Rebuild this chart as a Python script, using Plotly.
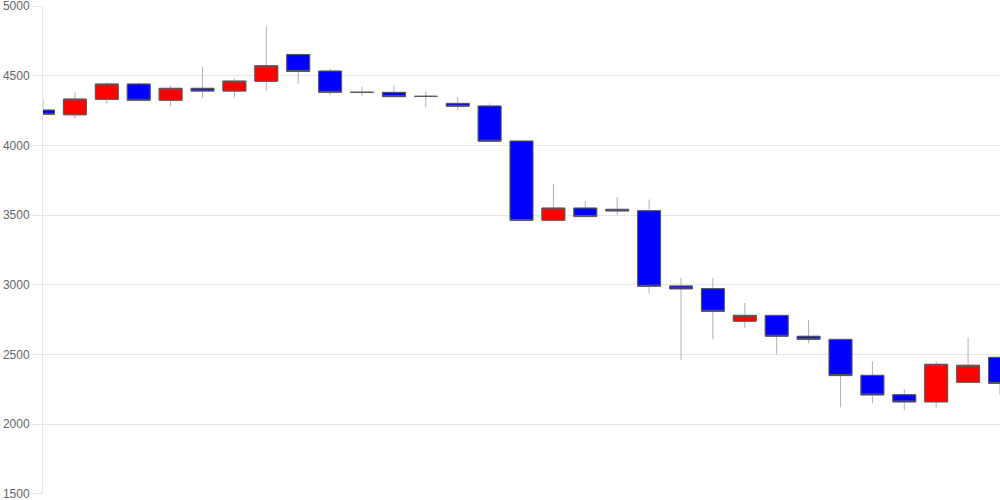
import plotly.graph_objects as go

idx = list(range(31))
opens  = [4254, 4220, 4331, 4441, 4324, 4410, 4390, 4460, 4653, 4534, 4381, 4381, 4352, 4302, 4283,
          4032, 3463, 3551, 3542, 3532, 2992, 2973, 2739, 2781, 2631, 2609, 2351, 2212, 2160, 2301, 2480]
highs  = [4326, 4381, 4453, 4453, 4431, 4562, 4481, 4852, 4653, 4553, 4421, 4431, 4390, 4350, 4302,
          4032, 3723, 3601, 3630, 3613, 3050, 3050, 2870, 2781, 2750, 2609, 2452, 2251, 2452, 2621, 2480]
lows   = [4223, 4192, 4300, 4324, 4283, 4342, 4342, 4393, 4443, 4360, 4357, 4350, 4273, 4252, 4030,
          3462, 3462, 3490, 3501, 2940, 2462, 2609, 2691, 2502, 2580, 2122, 2150, 2100, 2119, 2301, 2212]
closes = [4223, 4333, 4441, 4324, 4410, 4390, 4462, 4572, 4531, 4381, 4381, 4350, 4352, 4281, 4030,
          3462, 3551, 3490, 3530, 2990, 2971, 2810, 2781, 2631, 2609, 2349, 2210, 2160, 2430, 2423, 2292]

y_ticks = [1500, 2000, 2500, 3000, 3500, 4000, 4500, 5000]

body_top = [max(o, c) for o, c in zip(opens, closes)]
body_bot = [min(o, c) for o, c in zip(opens, closes)]

fig = go.Figure()
# wicks (light grey)
fig.add_trace(go.Candlestick(
    x=idx, open=opens, high=highs, low=lows, close=closes,
    increasing=dict(fillcolor="#ff0000", line=dict(color="#b0b0b0", width=1)),
    decreasing=dict(fillcolor="#0000ff", line=dict(color="#b0b0b0", width=1)),
    whiskerwidth=0, showlegend=False, hoverinfo="skip",
))
# bodies with darker border
fig.add_trace(go.Candlestick(
    x=idx, open=opens, high=body_top, low=body_bot, close=closes,
    increasing=dict(fillcolor="#ff0000", line=dict(color="#5a5a5a", width=1)),
    decreasing=dict(fillcolor="#0000ff", line=dict(color="#5a5a5a", width=1)),
    whiskerwidth=0, showlegend=False, hoverinfo="skip",
))

fig.update_layout(
    width=1000, height=500,
    margin=dict(l=43, r=0, t=6, b=6, autoexpand=False),
    paper_bgcolor="white", plot_bgcolor="white",
    boxmode="overlay", boxgap=0.28, boxgroupgap=0,
    font=dict(family="Liberation Sans, Arial, sans-serif", size=12, color="#666666"),
    xaxis=dict(range=[0, 30], showticklabels=False, showgrid=False, zeroline=False,
               showline=False, ticks="", automargin=False, rangeslider=dict(visible=False)),
    yaxis=dict(range=[1499.5, 5000.5], tickvals=y_ticks, ticktext=[str(v) for v in y_ticks],
               showgrid=True, gridcolor="#e6e6e6", gridwidth=1, zeroline=False,
               showline=True, linecolor="#e6e6e6", linewidth=1, automargin=False,
               ticklabeloverflow="allow",
               ticks="outside", ticklen=10, tickcolor="#e6e6e6", tickwidth=1),
)

fig.write_html("out.html", config={"displayModeBar": False},
               post_script="document.body.style.margin='0';")
